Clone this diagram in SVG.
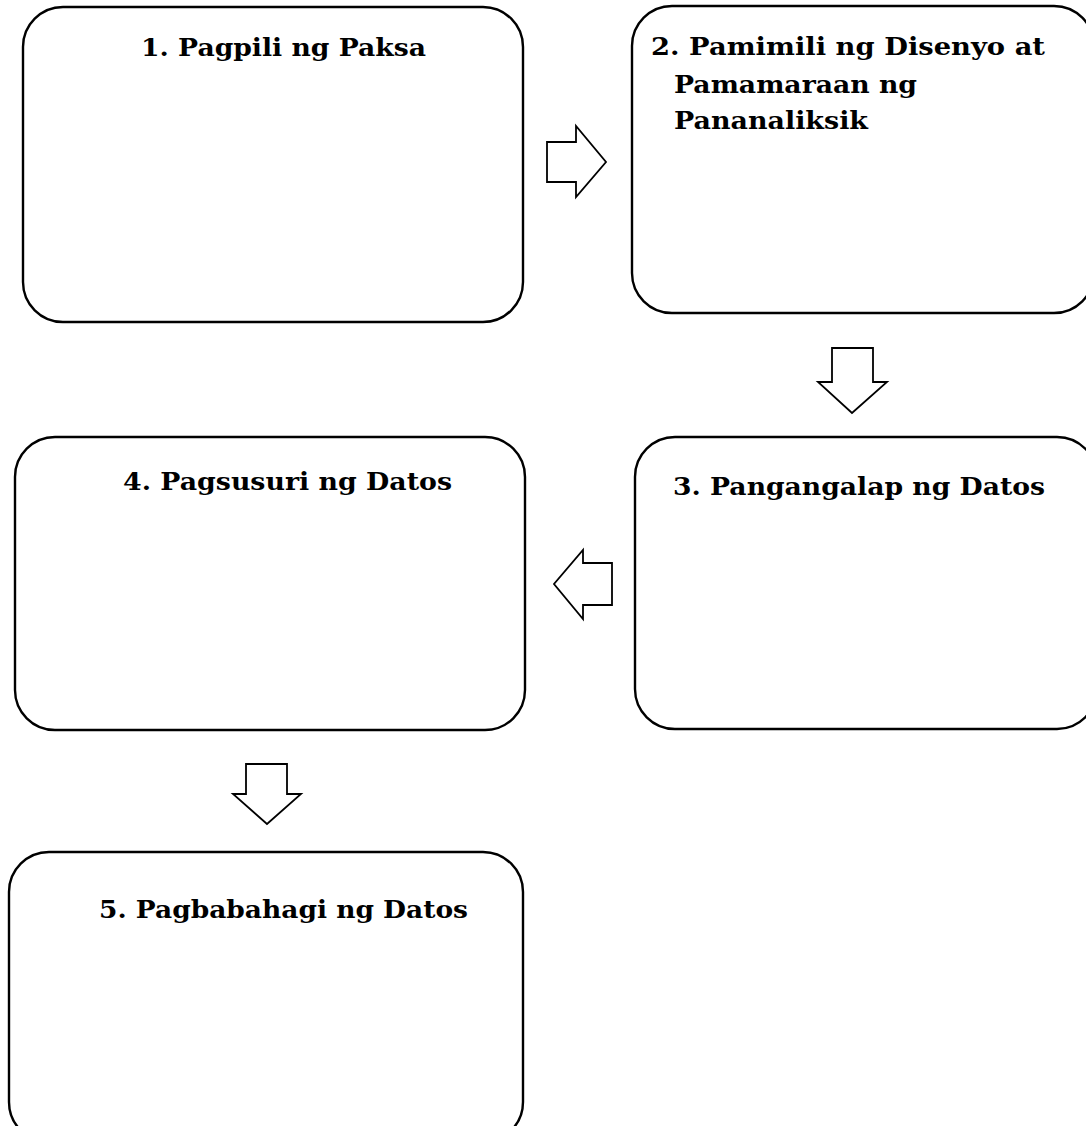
<svg xmlns="http://www.w3.org/2000/svg" width="1086" height="1126" viewBox="0 0 1086 1126">
<style>
.box{fill:#fff;stroke:#000;stroke-width:2.4}
.arr{fill:#fff;stroke:#000;stroke-width:1.8;stroke-linejoin:miter}
.t{font-family:"DejaVu Serif","Liberation Serif",serif;font-weight:bold;font-size:25px;fill:#000}
</style>
<rect width="1086" height="1126" fill="#fff"/>
<g id="node1">
<rect class="box" x="23" y="7" width="500" height="315" rx="40"/>
<text class="t" x="141" y="56" textLength="285" lengthAdjust="spacingAndGlyphs">1. Pagpili ng Paksa</text>
</g>
<g id="node2">
<rect class="box" x="632" y="6" width="462" height="307" rx="40"/>
<text class="t" x="651" y="55" textLength="394" lengthAdjust="spacingAndGlyphs">2. Pamimili ng Disenyo at</text>
<text class="t" x="674" y="93" textLength="243" lengthAdjust="spacingAndGlyphs">Pamamaraan ng</text>
<text class="t" x="674" y="129" textLength="194" lengthAdjust="spacingAndGlyphs">Pananaliksik</text>
</g>
<g id="node3">
<rect class="box" x="635" y="437" width="462" height="292" rx="40"/>
<text class="t" x="673" y="495" textLength="372" lengthAdjust="spacingAndGlyphs">3. Pangangalap ng Datos</text>
</g>
<g id="node4">
<rect class="box" x="15" y="437" width="510" height="293" rx="40"/>
<text class="t" x="123" y="490" textLength="329" lengthAdjust="spacingAndGlyphs">4. Pagsusuri ng Datos</text>
</g>
<g id="node5">
<rect class="box" x="9" y="852" width="514" height="290" rx="40"/>
<text class="t" x="99" y="918" textLength="369" lengthAdjust="spacingAndGlyphs">5. Pagbabahagi ng Datos</text>
</g>
<g id="connectors">
<polygon class="arr" points="547,142 576,142 576,126 606,162 576,197 576,182 547,182"/>
<polygon class="arr" points="832,348 873,348 873,382 887,382 852,413 818,382 832,382"/>
<polygon class="arr" points="612,563 583,563 583,550 554,584 583,619 583,605 612,605"/>
<polygon class="arr" points="246,764 287,764 287,794 301,794 267,824 233,794 246,794"/>
</g>
</svg>
